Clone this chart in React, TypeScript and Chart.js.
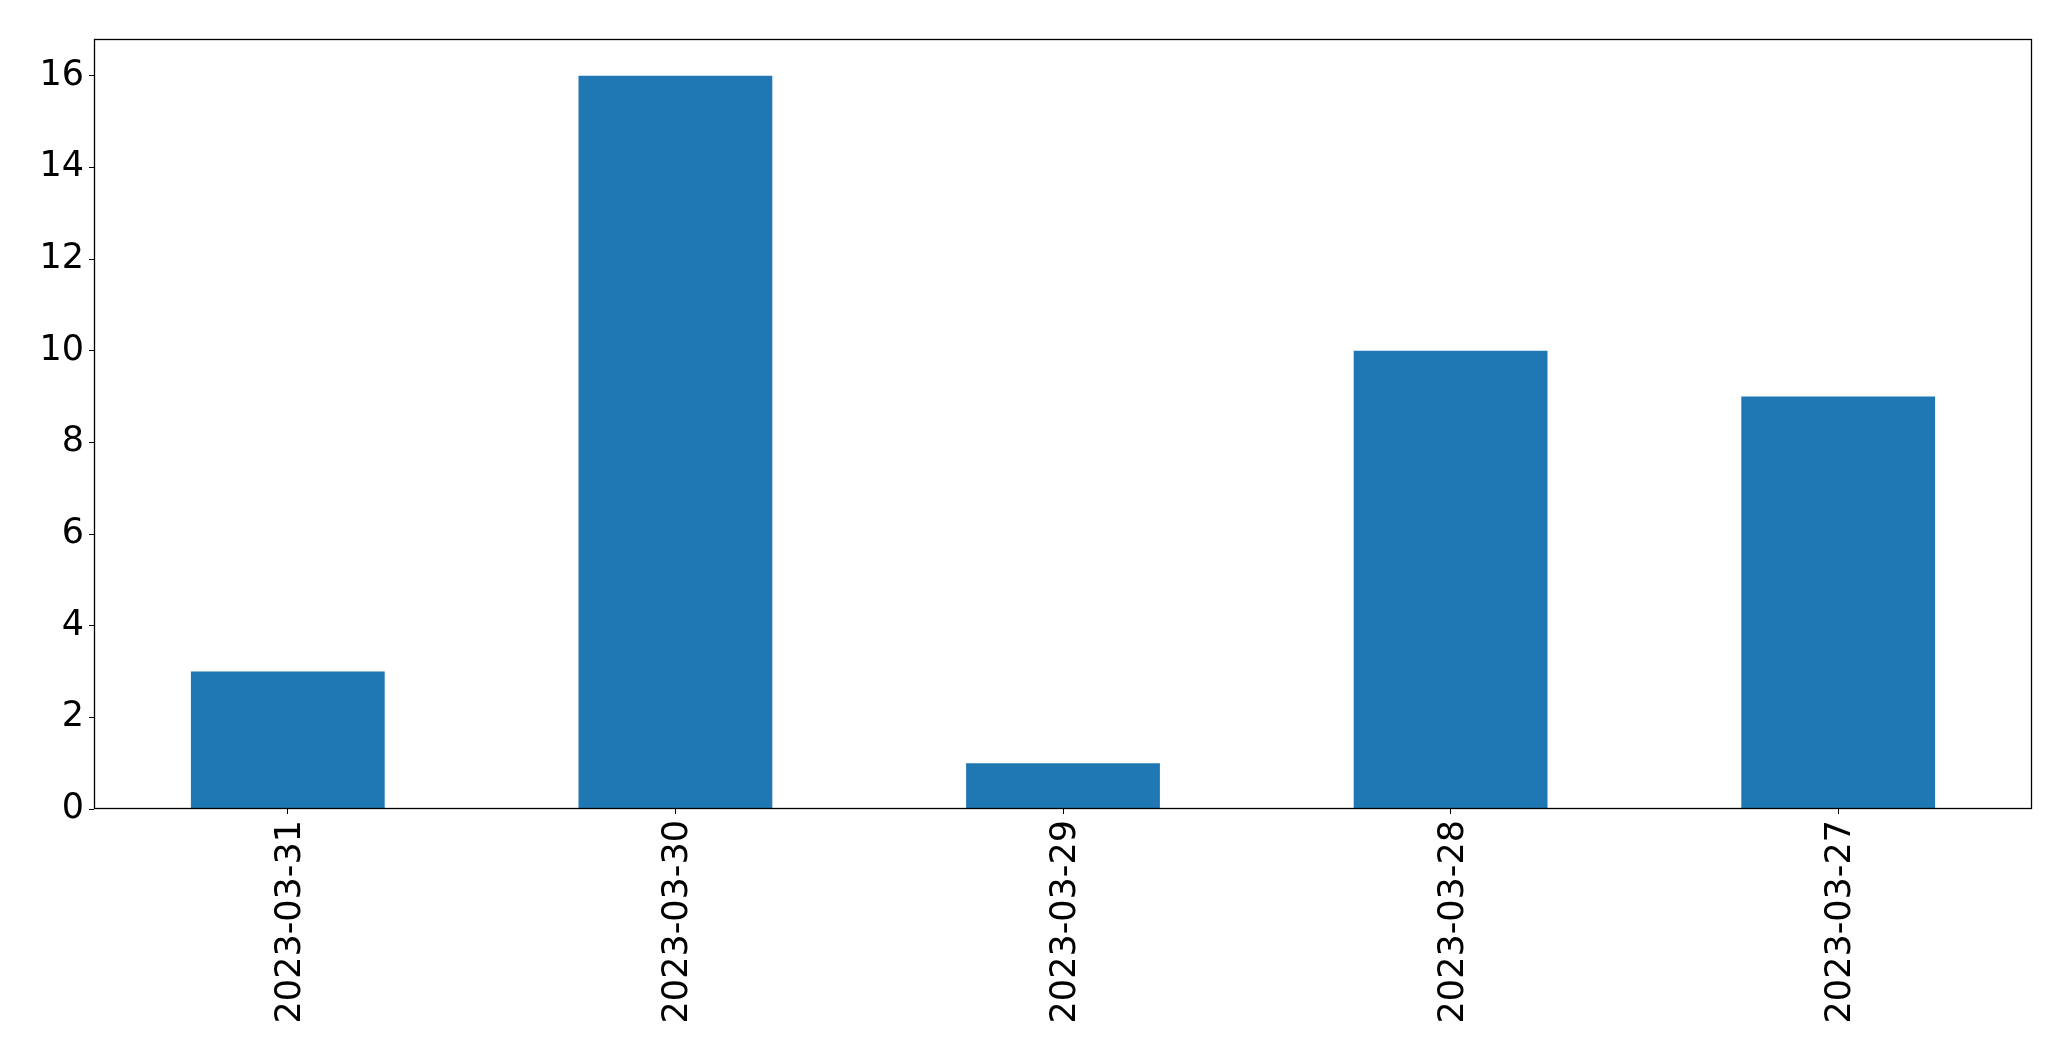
import React, { useEffect, useRef } from "react";
import { Chart, registerables } from "chart.js";

Chart.register(...registerables);

const categories = ["2023-03-31", "2023-03-30", "2023-03-29", "2023-03-28", "2023-03-27"];
const counts = [3, 16, 1, 10, 9];
const yTickValues = [0, 2, 4, 6, 8, 10, 12, 14, 16];
const yMax = 16.8;

const framePlugin = {
  id: "frame",
  afterDatasetsDraw(chart: any) {
    const { ctx, chartArea } = chart;
    const l = Math.round(chartArea.left) + 0.5;
    const t = Math.round(chartArea.top) + 0.5;
    const r = Math.round(chartArea.right) - 0.5;
    const b = Math.round(chartArea.bottom) - 0.5;
    ctx.save();
    ctx.strokeStyle = "#000";
    ctx.lineWidth = 1.3;
    ctx.strokeRect(l, t, r - l, b - t);
    ctx.restore();
  },
};

export default function App() {
  const ref = useRef<HTMLCanvasElement | null>(null);
  useEffect(() => {
    document.body.style.margin = "0";
    const font = { family: "DejaVu Sans", size: 35 };
    const chart = new Chart(ref.current as HTMLCanvasElement, {
      type: "bar",
      data: {
        labels: categories,
        datasets: [
          {
            data: counts,
            backgroundColor: "#1f77b4",
            borderWidth: 0,
            categoryPercentage: 1,
            barPercentage: 0.5,
          },
        ],
      },
      plugins: [framePlugin],
      options: {
        responsive: false,
        animation: false,
        devicePixelRatio: 1,
        layout: { padding: { top: 39, right: 39, left: 0, bottom: 0 } },
        plugins: { legend: { display: false }, tooltip: { enabled: false } },
        scales: {
          x: {
            border: { display: false },
            grid: {
              display: true,
              offset: false,
              drawOnChartArea: false,
              drawTicks: true,
              tickLength: 5,
              color: "#000",
              lineWidth: 1,
            },
            ticks: {
              color: "#000",
              font,
              minRotation: 90,
              maxRotation: 90,
              padding: 6,
              labelOffset: 3,
              autoSkip: false,
            },
            afterFit(scale: any) {
              scale.height = 252;
            },
          },
          y: {
            min: 0,
            max: yMax,
            border: { display: false },
            grid: {
              display: true,
              drawOnChartArea: false,
              drawTicks: true,
              tickLength: 5,
              color: "#000",
              lineWidth: 1,
            },
            ticks: { color: "#000", font, padding: 5 },
            afterBuildTicks(scale: any) {
              scale.ticks = yTickValues.map((v) => ({ value: v }));
            },
            afterFit(scale: any) {
              scale.width = 94;
            },
          },
        },
      },
    } as any);
    return () => chart.destroy();
  }, []);
  return (
    <canvas
      ref={ref}
      width={2071}
      height={1061}
      style={{ display: "block", width: "2071px", height: "1061px" }}
    />
  );
}
